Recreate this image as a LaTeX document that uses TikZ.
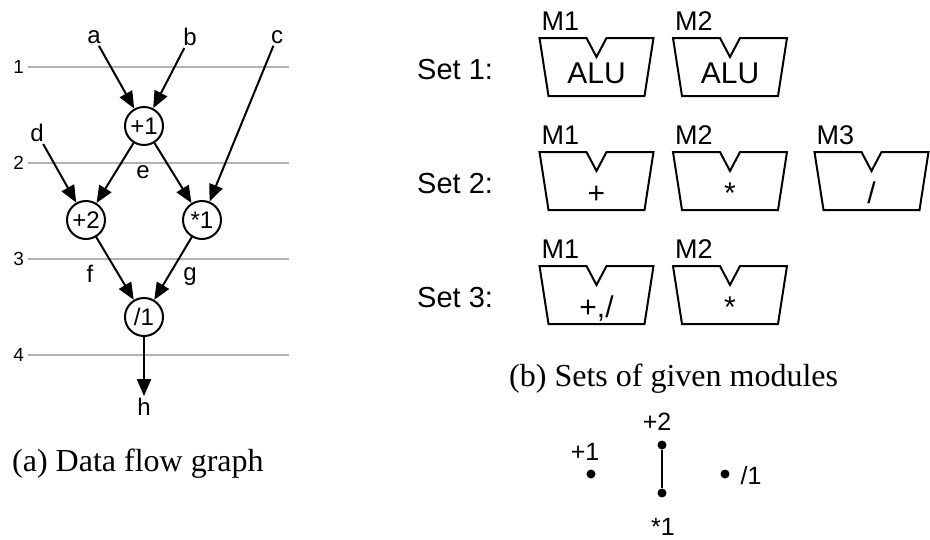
\documentclass[tikz,border=0pt]{standalone}
\usepackage{fontspec}
\setmainfont{Liberation Serif}
\setsansfont{Liberation Sans}
\usetikzlibrary{arrows.meta}

\newcommand{\fs}[1]{\fontsize{#1}{#1}\selectfont}
% module box: centre x, top y, operation, module name, node name
\newcommand{\modbox}[5]{%
  \draw[modline] (#1-57,#2) -- (#1-10,#2) -- (#1,#2+19) -- (#1+10,#2)
    -- (#1+57,#2) -- (#1+48,#2+58) -- (#1-48,#2+58) -- cycle;
  \node[modtag, anchor=base west] (#5tag) at (#1-55,#2-8) {#4};
  \node[modop, anchor=base] (#5op) at (#1,#2+51) {#3};
}

\begin{document}
\begin{tikzpicture}[x=1pt, y=-1pt,
	level/.style={draw=gray!60, line width=2pt},
	lvlnum/.style={font=\sffamily\fs{19}, inner sep=3pt},
	op/.style={circle, draw, line width=2pt, minimum size=38pt, inner sep=0pt, font=\sffamily\fs{24}},
	var/.style={font=\sffamily\fs{24}, inner sep=2pt},
	flow/.style={-{Triangle[length=17pt,width=14pt]}, line width=2pt},
	modline/.style={line width=2pt, line join=miter},
	modtag/.style={font=\sffamily\fs{27}, inner sep=0pt},
	modop/.style={font=\sffamily\fs{30}, inner sep=0pt},
	setname/.style={font=\sffamily\fs{29}, inner sep=0pt, anchor=base west},
	caption/.style={font=\fs{32}, inner sep=0pt, anchor=base west},
	dot/.style={circle, fill, inner sep=0pt, minimum size=9pt},
	dotlbl/.style={font=\sffamily\fs{25}, inner sep=0pt},
	]
	\useasboundingbox (0,0) rectangle (930,539);
	
	% control steps
	\foreach \i/\y in {1/67,2/163,3/259,4/355}
		\draw[level] (28,\y) node[lvlnum, left] (step\i) {\i} -- (289,\y);
	
	% data flow graph
	\node[op] (p1) at (144,126) {+1};
	\node[op] (p2) at (86,220) {+2};
	\node[op] (t1) at (202,220) {*1};
	\node[op] (q1) at (144,317) {/1};
	
	\node[var] (a) at (94,37) {a};
	\node[var] (b) at (190,37) {b};
	\node[var] (c) at (277,37) {c};
	\node[var] (d) at (37,133) {d};
	\node[var] (e) at (143,172) {e};
	\node[var] (f) at (90,274) {f};
	\node[var] (g) at (190,277) {g};
	\node[var] (h) at (144,407) {h};
	
	\draw[flow] (a) -- (p1);
	\draw[flow] (b) -- (p1);
	\draw[flow] (c) -- (t1);
	\draw[flow] (d) -- (p2);
	\draw[flow] (p1) -- (p2);
	\draw[flow] (p1) -- (t1);
	\draw[flow] (p2) -- (q1);
	\draw[flow] (t1) -- (q1);
	\draw[flow] (q1) -- (h);
	
	\node[caption] (capa) at (12,471) {(a) Data flow graph};
	
	% sets of modules
	\node[setname] (set1) at (417,79) {Set 1:};
	\modbox{596.5}{38}{\raisebox{6pt}{ALU}}{M1}{sa}
	\modbox{730}{38}{\raisebox{6pt}{ALU}}{M2}{sb}
	
	\node[setname] (set2) at (417,193) {Set 2:};
	\modbox{596.5}{152}{+}{M1}{ta}
	\modbox{730}{152}{*}{M2}{tb}
	\modbox{871.5}{152}{/}{M3}{tc}
	
	\node[setname] (set3) at (417,307) {Set 3:};
	\modbox{596.5}{266}{+,/}{M1}{ua}
	\modbox{730}{266}{*}{M2}{ub}
	
	\node[caption] (capb) at (509,386) {(b) Sets of given modules};
	
	% compatibility graph
	\node[dot] (v1) at (591,474) {};
	\node[dot] (v2) at (662,445) {};
	\node[dot] (v3) at (662,493) {};
	\node[dot] (v4) at (725,474) {};
	\draw[line width=2pt] (v2) -- (v3);
	\node[dotlbl] (l1) at (585,452) {+1};
	\node[dotlbl] (l2) at (657,422) {+2};
	\node[dotlbl] (l3) at (663,527) {*1};
	\node[dotlbl] (l4) at (751,476) {/1};
\end{tikzpicture}
\end{document}
